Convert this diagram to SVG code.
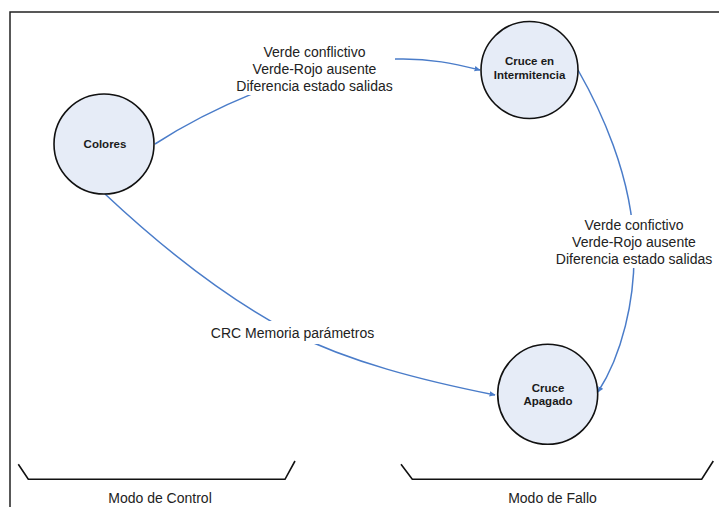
<svg xmlns="http://www.w3.org/2000/svg" width="719" height="507" viewBox="0 0 719 507">
<defs>
<style>
.frame{fill:none;stroke:#222;stroke-width:1.5}
.node{fill:#e6ecf7;stroke:#111;stroke-width:1.6}
.ntext{font-family:"Liberation Sans",Arial,sans-serif;font-size:11.5px;font-weight:bold;fill:#1a1a1a;text-anchor:middle}
.conn{fill:none;stroke:#4a7cc9;stroke-width:1.5}
.lbl{font-family:"Liberation Sans",Arial,sans-serif;font-size:14px;fill:#222;text-anchor:middle}
.lblbg{fill:#fff}
.brace{fill:none;stroke:#111;stroke-width:1.6}
</style>
<marker id="arr" viewBox="0 0 10 10" refX="9" refY="5" markerWidth="6" markerHeight="6" orient="auto" markerUnits="userSpaceOnUse">
<path d="M0,0.5 L10,5 L0,9.5 z" fill="#4a7cc9"/>
</marker>
</defs>
<rect width="719" height="507" fill="#fff"/>
<path class="frame" d="M10,507 L10,12 L719,12"/>
<g id="connectors">
<path class="conn" d="M155,144 C195,118 300,62 396,59 C430,58 455,64 480,70" marker-end="url(#arr)"/>
<path class="conn" d="M578,70 C598,105 633,175 634,250 C635,300 622,355 598,392" marker-end="url(#arr)"/>
<path class="conn" d="M105,194 C170,255 230,300 290,332 C350,362 420,380 495,395" marker-end="url(#arr)"/>
<g id="label-top">
<rect class="lblbg" x="234" y="40" width="161" height="55"/>
<text class="lbl" x="314.5" y="56.5">Verde conflictivo</text>
<text class="lbl" x="314.5" y="74">Verde-Rojo ausente</text>
<text class="lbl" x="314.5" y="91">Diferencia estado salidas</text>
</g>
<g id="label-right">
<rect class="lblbg" x="553" y="215" width="162" height="53"/>
<text class="lbl" x="634" y="229.5">Verde confictivo</text>
<text class="lbl" x="634" y="246.5">Verde-Rojo ausente</text>
<text class="lbl" x="634" y="264">Diferencia estado salidas</text>
</g>
<g id="label-crc">
<rect class="lblbg" x="207" y="321" width="172" height="23"/>
<text class="lbl" x="292.5" y="337.5">CRC Memoria parámetros</text>
</g>
</g>
<g id="node-colores">
<circle class="node" cx="104" cy="144" r="50"/>
<text class="ntext" x="105" y="148">Colores</text>
</g>
<g id="node-intermitencia">
<circle class="node" cx="529.5" cy="70" r="48.5"/>
<text class="ntext" x="529.5" y="65">Cruce en</text>
<text class="ntext" x="529.5" y="79">Intermitencia</text>
</g>
<g id="node-apagado">
<circle class="node" cx="547.7" cy="394.3" r="50"/>
<text class="ntext" x="548" y="391.5">Cruce</text>
<text class="ntext" x="548" y="405">Apagado</text>
</g>
<g id="mode-control">
<path class="brace" d="M18.3,464.3 L28.3,479.3 L285,479.3 L295,461"/>
<text class="lbl" x="160" y="503">Modo de Control</text>
</g>
<g id="mode-fallo">
<path class="brace" d="M401,464.3 L412.3,479.3 L701.7,479.3 L713.3,461"/>
<text class="lbl" x="552.5" y="503">Modo de Fallo</text>
</g>
</svg>
